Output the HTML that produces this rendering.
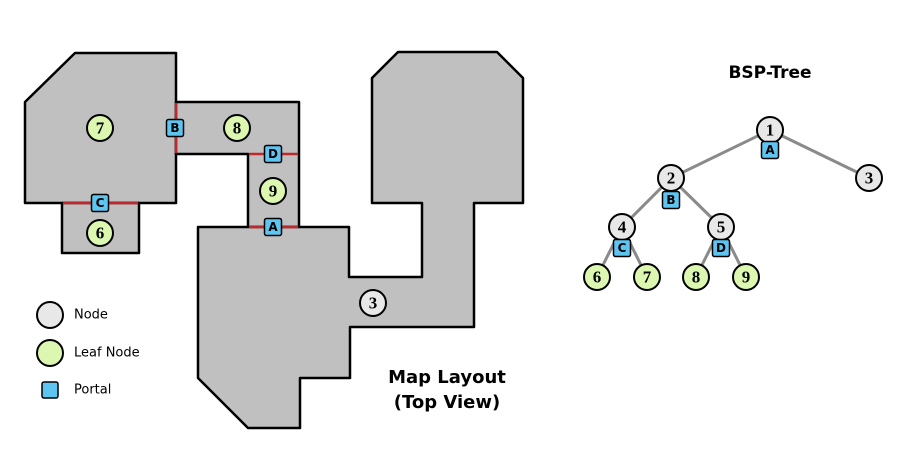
<!DOCTYPE html>
<html><head><meta charset="utf-8"><style>
body{margin:0;background:#fff}
svg{display:block}
.room{fill:#c0c0c0;stroke:#000;stroke-width:2.5;stroke-linejoin:round}
.portal-line{stroke:#c0282d;stroke-width:2.5}
.node{fill:#e8e8e8;stroke:#000;stroke-width:2}
.leaf{fill:#dcf8b0;stroke:#000;stroke-width:2}
.num{font-family:"Liberation Serif",serif;font-weight:bold;font-size:17px;text-anchor:middle;dominant-baseline:central}
.pbox{fill:#5ec4f0;stroke:#000;stroke-width:1.5}
.plab{font-family:"DejaVu Sans",sans-serif;font-weight:bold;font-size:12px;text-anchor:middle;dominant-baseline:central;fill:#000}
.edge{stroke:#8a8a8a;stroke-width:3}
.title{font-family:"DejaVu Sans",sans-serif;font-weight:bold;text-anchor:middle}
.leg{font-family:"DejaVu Sans",sans-serif;font-size:13px;dominant-baseline:central}
</style></head><body>
<svg width="919" height="453" viewBox="0 0 919 453">
<g>
<polygon class="room" points="75,53 176,53 176,203 25,203 25,102"/>
<polygon class="room" points="62,203 139,203 139,253 62,253"/>
<polygon class="room" points="176,102 299,102 299,227 248,227 248,154 176,154"/>
<polygon class="room" points="198,227 349,227 349,277 422,277 422,203 372,203 372,78 398,52 497,52 523,78 523,203 474,203 474,327 350,327 350,378 300,378 300,428 248,428 198,378"/>
<line class="portal-line" x1="176" y1="103" x2="176" y2="153"/>
<line class="portal-line" x1="63" y1="203" x2="138" y2="203"/>
<line class="portal-line" x1="249" y1="154" x2="298" y2="154"/>
<line class="portal-line" x1="249" y1="227" x2="298" y2="227"/>
<g><circle class="leaf" cx="100" cy="128" r="13"/><text class="num" x="100" y="128">7</text></g>
<g><circle class="leaf" cx="237" cy="128" r="13"/><text class="num" x="237" y="128">8</text></g>
<g><circle class="leaf" cx="273" cy="191" r="13"/><text class="num" x="273" y="191">9</text></g>
<g><circle class="leaf" cx="100" cy="233" r="13"/><text class="num" x="100" y="233">6</text></g>
<g><circle class="node" cx="373" cy="303" r="13"/><text class="num" x="373" y="303">3</text></g>
<g><rect class="pbox" x="166.5" y="119.5" width="17" height="17" rx="2"/><text class="plab" x="175" y="128">B</text></g>
<g><rect class="pbox" x="91.5" y="194.5" width="17" height="17" rx="2"/><text class="plab" x="100" y="203">C</text></g>
<g><rect class="pbox" x="264.5" y="145.5" width="17" height="17" rx="2"/><text class="plab" x="273" y="154">D</text></g>
<g><rect class="pbox" x="264.5" y="218.5" width="17" height="17" rx="2"/><text class="plab" x="273" y="227">A</text></g>
<text class="title" x="447" y="383" font-size="18">Map Layout</text>
<text class="title" x="447" y="408" font-size="18">(Top View)</text>
</g>
<g>
<g><circle class="node" cx="50" cy="315" r="13"/><text class="leg" x="74" y="315">Node</text></g>
<g><circle class="leaf" cx="50" cy="353" r="13"/><text class="leg" x="74" y="353">Leaf Node</text></g>
<g><rect class="pbox" x="42" y="382" width="16" height="16" rx="2"/><text class="leg" x="74" y="390">Portal</text></g>
</g>
<g>
<text class="title" x="770" y="78" font-size="17">BSP-Tree</text>
<line class="edge" x1="770" y1="130" x2="671" y2="178"/>
<line class="edge" x1="770" y1="130" x2="869" y2="178"/>
<line class="edge" x1="671" y1="178" x2="622" y2="227"/>
<line class="edge" x1="671" y1="178" x2="721" y2="227"/>
<line class="edge" x1="622" y1="227" x2="597" y2="277"/>
<line class="edge" x1="622" y1="227" x2="647" y2="277"/>
<line class="edge" x1="721" y1="227" x2="696" y2="277"/>
<line class="edge" x1="721" y1="227" x2="746" y2="277"/>
<g><circle class="node" cx="770" cy="130" r="13"/><text class="num" x="770" y="130">1</text></g>
<g><circle class="node" cx="671" cy="178" r="13"/><text class="num" x="671" y="178">2</text></g>
<g><circle class="node" cx="869" cy="178" r="13"/><text class="num" x="869" y="178">3</text></g>
<g><circle class="node" cx="622" cy="227" r="13"/><text class="num" x="622" y="227">4</text></g>
<g><circle class="node" cx="721" cy="227" r="13"/><text class="num" x="721" y="227">5</text></g>
<g><circle class="leaf" cx="597" cy="277" r="13"/><text class="num" x="597" y="277">6</text></g>
<g><circle class="leaf" cx="647" cy="277" r="13"/><text class="num" x="647" y="277">7</text></g>
<g><circle class="leaf" cx="696" cy="277" r="13"/><text class="num" x="696" y="277">8</text></g>
<g><circle class="leaf" cx="746" cy="277" r="13"/><text class="num" x="746" y="277">9</text></g>
<g><rect class="pbox" x="761.5" y="141.5" width="17" height="17" rx="2"/><text class="plab" x="770" y="150">A</text></g>
<g><rect class="pbox" x="662.5" y="191.5" width="17" height="17" rx="2"/><text class="plab" x="671" y="200">B</text></g>
<g><rect class="pbox" x="613.5" y="239.5" width="17" height="17" rx="2"/><text class="plab" x="622" y="248">C</text></g>
<g><rect class="pbox" x="712.5" y="239.5" width="17" height="17" rx="2"/><text class="plab" x="721" y="248">D</text></g>
</g>
</svg>
</body></html>
